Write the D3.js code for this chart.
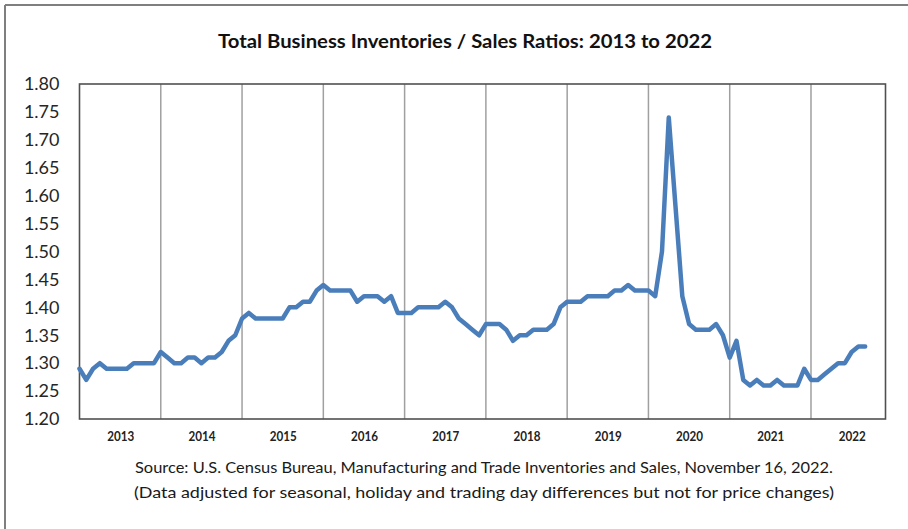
<!DOCTYPE html>
<html>
<head>
<meta charset="utf-8">
<script src="https://cdn.jsdelivr.net/npm/d3@7/dist/d3.min.js"></script>
<style>
  html, body { margin: 0; padding: 0; background: #fff; }
  svg { display: block; }
</style>
</head>
<body>
<div id="chart"></div>
<script>
// Total business inventories / sales ratio, monthly, Jan 2013 - Sep 2022
const years = [2013, 2014, 2015, 2016, 2017, 2018, 2019, 2020, 2021, 2022];
const yTicks = [1.20, 1.25, 1.30, 1.35, 1.40, 1.45, 1.50, 1.55, 1.60, 1.65, 1.70, 1.75, 1.80];
const ratios = [
  1.29, 1.27, 1.29, 1.30, 1.29, 1.29, 1.29, 1.29, 1.30, 1.30, 1.30, 1.30, // 2013
  1.32, 1.31, 1.30, 1.30, 1.31, 1.31, 1.30, 1.31, 1.31, 1.32, 1.34, 1.35, // 2014
  1.38, 1.39, 1.38, 1.38, 1.38, 1.38, 1.38, 1.40, 1.40, 1.41, 1.41, 1.43, // 2015
  1.44, 1.43, 1.43, 1.43, 1.43, 1.41, 1.42, 1.42, 1.42, 1.41, 1.42, 1.39, // 2016
  1.39, 1.39, 1.40, 1.40, 1.40, 1.40, 1.41, 1.40, 1.38, 1.37, 1.36, 1.35, // 2017
  1.37, 1.37, 1.37, 1.36, 1.34, 1.35, 1.35, 1.36, 1.36, 1.36, 1.37, 1.40, // 2018
  1.41, 1.41, 1.41, 1.42, 1.42, 1.42, 1.42, 1.43, 1.43, 1.44, 1.43, 1.43, // 2019
  1.43, 1.42, 1.50, 1.74, 1.58, 1.42, 1.37, 1.36, 1.36, 1.36, 1.37, 1.35, // 2020
  1.31, 1.34, 1.27, 1.26, 1.27, 1.26, 1.26, 1.27, 1.26, 1.26, 1.26, 1.29, // 2021
  1.27, 1.27, 1.28, 1.29, 1.30, 1.30, 1.32, 1.33, 1.33                    // 2022
];

const W = 908, H = 529;
const M = { top: 84, right: 22, bottom: 110, left: 79.5 };

// one category per month on the axis (Jan 2013 .. Dec 2022)
const months = [];
years.forEach(y => { for (let m = 1; m <= 12; m++) months.push(y + '-' + String(m).padStart(2, '0')); });
const pts = ratios.map((v, i) => ({ m: months[i], v: v }));

const svg = d3.select('#chart').append('svg')
  .attr('width', W).attr('height', H)
  .style('background', '#fff');

// outer frame (top + left edges visible)
svg.append('line').attr('x1', 5).attr('x2', W).attr('y1', 5).attr('y2', 5)
  .attr('stroke', '#7f7f7f').attr('stroke-width', 2);
svg.append('line').attr('x1', 5).attr('x2', 5).attr('y1', 5).attr('y2', H)
  .attr('stroke', '#7f7f7f').attr('stroke-width', 2);

const x = d3.scalePoint().domain(months).range([M.left, 885.5]);
const y = d3.scaleLinear().domain([1.2, 1.8]).range([419, M.top]);

// Title
svg.append('text')
  .attr('x', 465).attr('y', 48)
  .attr('text-anchor', 'middle')
  .attr('font-family', 'Lato, "Open Sans", sans-serif')
  .attr('font-weight', 700).attr('font-size', 18).attr('fill', '#111')
  .attr('textLength', 494).attr('lengthAdjust', 'spacingAndGlyphs')
  .text('Total Business Inventories / Sales Ratios: 2013 to 2022');

// Vertical gridlines at each January (year boundaries)
const yearStarts = years.slice(1).map(yr => yr + '-01');
svg.append('g').selectAll('line')
  .data(yearStarts).enter().append('line')
  .attr('x1', d => x(d)).attr('x2', d => x(d))
  .attr('y1', y(1.8)).attr('y2', y(1.2))
  .attr('stroke', '#a0a0a0').attr('stroke-width', 1.5);

// Plot box
svg.append('rect')
  .attr('x', x(months[0])).attr('y', y(1.8))
  .attr('width', x(months[months.length - 1]) - x(months[0]))
  .attr('height', y(1.2) - y(1.8))
  .attr('fill', 'none').attr('stroke', '#505050').attr('stroke-width', 1.6);

// Y axis labels
const yAxis = svg.append('g')
  .attr('transform', `translate(${M.left},0)`)
  .call(d3.axisLeft(y).tickValues(yTicks).tickFormat(d3.format('.2f')).tickSize(0).tickPadding(20));
yAxis.select('.domain').remove();
yAxis.selectAll('text')
  .attr('font-family', 'Lato, "Open Sans", sans-serif')
  .attr('font-size', 18).attr('fill', '#262626');

// X axis year labels, centred in each year
const xAxis = svg.append('g')
  .attr('transform', `translate(0,${y(1.2)})`)
  .call(d3.axisBottom(x).tickValues(years.map(yr => yr + '-07')).tickFormat(d => d.slice(0, 4)).tickSize(0).tickPadding(13));
xAxis.select('.domain').remove();
xAxis.selectAll('text')
  .attr('font-family', 'Lato, "Open Sans", sans-serif')
  .attr('font-size', 13).attr('font-weight', 700).attr('fill', '#222')
  .attr('textLength', 27).attr('lengthAdjust', 'spacingAndGlyphs');

// Series line
const line = d3.line().x(d => x(d.m)).y(d => y(d.v));
svg.append('path').datum(pts)
  .attr('d', line)
  .attr('fill', 'none')
  .attr('stroke', '#4a7ebb').attr('stroke-width', 4.5)
  .attr('stroke-linejoin', 'round').attr('stroke-linecap', 'round');

// Source notes
const notes = [
  { t: 'Source: U.S. Census Bureau, Manufacturing and Trade Inventories and Sales, November 16, 2022.', y: 473, len: 698 },
  { t: '(Data adjusted for seasonal, holiday and trading day differences but not for price changes)', y: 498, len: 700 }
];
svg.append('g').selectAll('text').data(notes).enter().append('text')
  .attr('x', 484).attr('y', d => d.y)
  .attr('text-anchor', 'middle')
  .attr('font-family', 'Lato, "Open Sans", sans-serif')
  .attr('font-size', 15).attr('fill', '#1a1a1a')
  .attr('textLength', d => d.len).attr('lengthAdjust', 'spacingAndGlyphs')
  .text(d => d.t);
</script>
</body>
</html>
